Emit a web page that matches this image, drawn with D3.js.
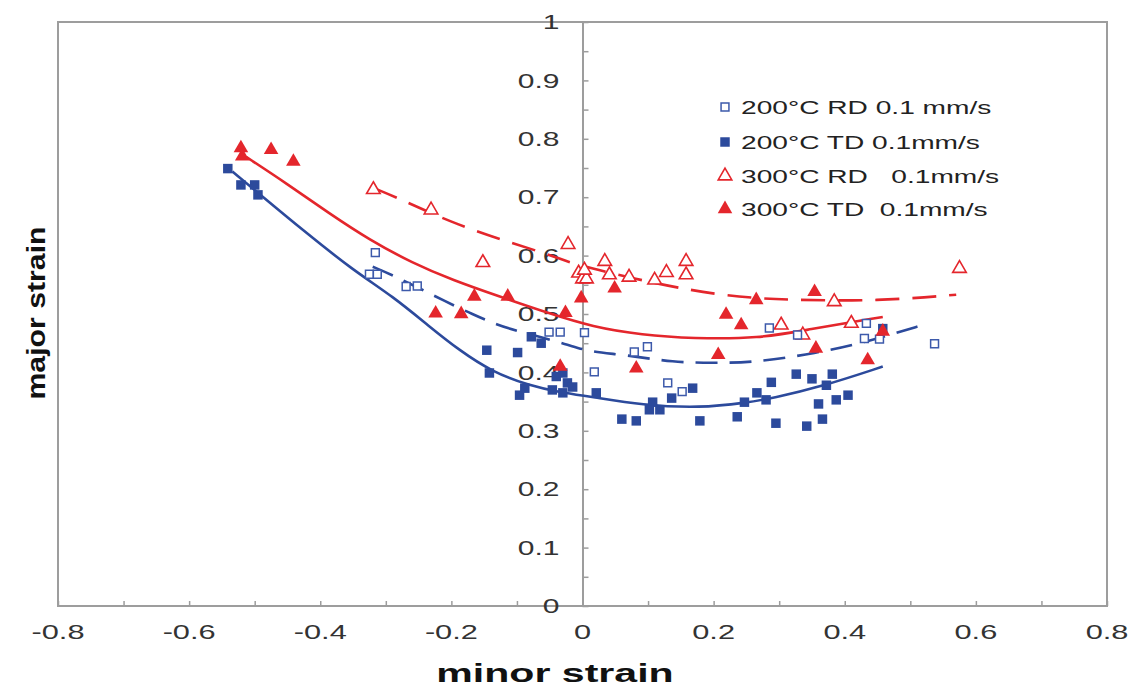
<!DOCTYPE html>
<html>
<head>
<meta charset="utf-8">
<script src="https://cdn.jsdelivr.net/npm/d3@7"></script>
<style>
  html, body { margin: 0; padding: 0; background: #fff; }
  svg { display: block; }
  text { font-family: "Liberation Sans", Arial, sans-serif; }
</style>
</head>
<body>
<svg id="chart" width="1134" height="689"></svg>
<script>
// ---------- data (minor strain, major strain) ----------
const rd200 = [
  [-0.316,0.605],[-0.325,0.568],[-0.313,0.568],[-0.269,0.547],[-0.252,0.548],
  [-0.051,0.469],[-0.034,0.469],[0.003,0.468],[0.018,0.401],[0.079,0.435],
  [0.099,0.444],[0.130,0.382],[0.152,0.367],[0.285,0.476],[0.328,0.464],
  [0.433,0.484],[0.430,0.458],[0.453,0.457],[0.537,0.449]
];
const td200 = [
  [-0.541,0.749],[-0.521,0.721],[-0.500,0.721],[-0.495,0.704],
  [-0.146,0.438],[-0.142,0.399],[-0.099,0.434],[-0.078,0.461],[-0.063,0.450],
  [-0.088,0.373],[-0.096,0.361],[-0.040,0.393],[-0.046,0.370],[-0.030,0.365],
  [-0.023,0.382],[-0.015,0.375],[-0.030,0.399],[0.021,0.365],[0.060,0.320],
  [0.082,0.317],[0.107,0.349],[0.118,0.336],[0.102,0.336],[0.136,0.356],
  [0.168,0.373],[0.179,0.317],[0.236,0.324],[0.247,0.349],[0.266,0.365],
  [0.288,0.383],[0.326,0.397],[0.350,0.389],[0.381,0.397],[0.372,0.378],
  [0.280,0.353],[0.360,0.346],[0.387,0.353],[0.405,0.361],[0.295,0.313],
  [0.342,0.308],[0.366,0.320],[0.458,0.475]
];
const rd300 = [
  [-0.319,0.713],[-0.231,0.678],[-0.152,0.588],[-0.022,0.619],[-0.006,0.570],
  [0.000,0.560],[0.006,0.560],[0.003,0.575],[0.034,0.590],[0.041,0.567],
  [0.071,0.563],[0.110,0.558],[0.128,0.571],[0.158,0.590],[0.158,0.567],
  [0.303,0.481],[0.336,0.464],[0.384,0.521],[0.410,0.484],[0.575,0.578]
];
const td300 = [
  [-0.521,0.784],[-0.519,0.770],[-0.475,0.781],[-0.441,0.761],
  [-0.224,0.501],[-0.185,0.500],[-0.165,0.530],[-0.114,0.530],[-0.034,0.410],
  [-0.026,0.502],[-0.002,0.527],[0.049,0.544],[0.082,0.407],[0.207,0.430],
  [0.219,0.499],[0.242,0.481],[0.265,0.524],[0.354,0.538],[0.356,0.441],
  [0.435,0.421],[0.458,0.470]
];
// trend curves
const fitTd200 = [
  [-0.534,0.744],[-0.488,0.701],[-0.427,0.644],[-0.350,0.575],[-0.289,0.530],
  [-0.233,0.478],[-0.188,0.438],[-0.138,0.401],[-0.080,0.377],[-0.035,0.366],
  [0.015,0.358],[0.091,0.344],[0.179,0.339],[0.250,0.348],[0.290,0.356],
  [0.366,0.376],[0.458,0.410]
];
const fitTd300 = [
  [-0.513,0.769],[-0.452,0.724],[-0.386,0.672],[-0.325,0.627],[-0.259,0.587],
  [-0.198,0.558],[-0.127,0.530],[-0.051,0.501],[0.015,0.478],[0.091,0.464],
  [0.168,0.458],[0.270,0.458],[0.342,0.473],[0.458,0.495]
];
const fitRd200 = [
  [-0.320,0.581],[-0.284,0.564],[-0.203,0.518],[-0.170,0.501],[-0.130,0.481],
  [-0.096,0.470],[-0.020,0.447],[0.011,0.435],[0.067,0.430],[0.137,0.417],
  [0.209,0.416],[0.270,0.418],[0.356,0.433],[0.427,0.450],[0.524,0.483]
];
const fitRd300 = [
  [-0.317,0.715],[-0.274,0.695],[-0.203,0.658],[-0.124,0.627],[-0.040,0.598],
  [-0.022,0.588],[0.072,0.562],[0.166,0.540],[0.239,0.529],[0.311,0.524],
  [0.453,0.522],[0.570,0.533]
];
const xTicks = [-0.8,-0.6,-0.4,-0.2,0,0.2,0.4,0.6,0.8];
const yTicks = [0,0.1,0.2,0.3,0.4,0.5,0.6,0.7,0.8,0.9,1];
const legendLabels = ["200°C RD 0.1 mm/s","200°C TD 0.1mm/s","300°C RD   0.1mm/s","300°C TD  0.1mm/s"];

// ---------- layout ----------
const BLUE = "#2c4a9c", BLUE_OPEN = "#3d5aab", RED = "#e4262c";
const svg = d3.select("#chart");
const x = d3.scaleLinear().domain([-0.8,0.8]).range([58,1107]);
const y = d3.scaleLinear().domain([0,1]).range([606,22]);
const FRAME = "#9d9d9d";
const fmt = d => String(d);

// frame
svg.append("rect").attr("x",x(-0.8)).attr("y",y(1))
  .attr("width",x(0.8)-x(-0.8)).attr("height",y(0)-y(1))
  .attr("fill","none").attr("stroke",FRAME).attr("stroke-width",2);

// x ticks (upward, every 0.1)
const gx = svg.append("g").attr("transform",`translate(0,${y(0)})`)
  .call(d3.axisTop(x).tickValues(d3.range(-8,9).map(d=>d/10)).tickSize(5).tickFormat(""));
gx.select(".domain").remove();
gx.selectAll("line").attr("stroke",FRAME).attr("stroke-width",1.5);

// y axis at minor strain 0
const gy = svg.append("g").attr("transform",`translate(${x(0)},0)`)
  .call(d3.axisRight(y).tickValues(d3.range(0,21).map(d=>d/20)).tickSize(6).tickFormat("").tickSizeOuter(0));
gy.select(".domain").attr("stroke",FRAME).attr("stroke-width",2);
gy.selectAll("line").attr("stroke",FRAME).attr("stroke-width",1.5);

// tick labels (horizontally stretched like the source)
const SX = 1.5;
svg.append("g").selectAll("g").data(yTicks).join("g")
  .attr("transform",d=>`translate(${x(0)-23},${y(d)}) scale(${SX},1)`)
  .append("text").attr("text-anchor","end").attr("dy","0.36em")
  .attr("font-size",20).attr("fill","#333").text(fmt);
svg.append("g").selectAll("g").data(xTicks).join("g")
  .attr("transform",d=>`translate(${x(d)},632) scale(${SX},1)`)
  .append("text").attr("text-anchor","middle").attr("dy","0.36em")
  .attr("font-size",20.5).attr("fill","#333").text(fmt);

// axis titles
svg.append("g").attr("transform","translate(555,682) scale(1.58,1)")
  .append("text").attr("text-anchor","middle").attr("font-size",26)
  .attr("font-weight","bold").attr("fill","#111").text("minor strain");
svg.append("text").attr("transform","translate(45,313) rotate(-90)")
  .attr("text-anchor","middle").attr("font-size",26).attr("font-weight","bold")
  .attr("fill","#111").attr("textLength",173).attr("lengthAdjust","spacingAndGlyphs")
  .text("major strain");

// fit curves
const line = d3.line().x(d=>x(d[0])).y(d=>y(d[1])).curve(d3.curveBasis);
const curves = [
  {data:fitRd300, color:RED, dash:"24,13"},
  {data:fitTd300, color:RED, dash:null},
  {data:fitRd200, color:BLUE, dash:"22,12"},
  {data:fitTd200, color:BLUE, dash:null}
];
svg.append("g").selectAll("path").data(curves).join("path")
  .attr("d",d=>line(d.data)).attr("fill","none")
  .attr("stroke",d=>d.color).attr("stroke-width",2.6)
  .attr("stroke-dasharray",d=>d.dash);

// markers
const sqOpen = d3.symbol().type(d3.symbolSquare).size(62)();
const sqFill = d3.symbol().type(d3.symbolSquare).size(90)();
const triOpen = d3.symbol().type(d3.symbolTriangle).size(80)();
const triFill = d3.symbol().type(d3.symbolTriangle).size(92)();
const series = [
  {data:rd300, path:triOpen, fill:"#fff", stroke:RED, sw:1.6},
  {data:rd200, path:sqOpen, fill:"#fff", stroke:BLUE_OPEN, sw:1.5},
  {data:td200, path:sqFill, fill:BLUE, stroke:"none", sw:0},
  {data:td300, path:triFill, fill:RED, stroke:"none", sw:0}
];
series.forEach(s=>{
  svg.append("g").selectAll("path").data(s.data).join("path")
    .attr("d",s.path).attr("transform",d=>`translate(${x(d[0])},${y(d[1])})`)
    .attr("fill",s.fill).attr("stroke",s.stroke).attr("stroke-width",s.sw);
});

// legend
const legendMarks = [
  {path:sqOpen, fill:"#fff", stroke:BLUE_OPEN, sw:1.5},
  {path:sqFill, fill:BLUE, stroke:"none", sw:0},
  {path:triOpen, fill:"#fff", stroke:RED, sw:1.6},
  {path:triFill, fill:RED, stroke:"none", sw:0}
];
const legendY = [107,142,176,209];
const lg = svg.append("g");
legendLabels.forEach((lab,i)=>{
  const m = legendMarks[i];
  lg.append("path").attr("d",m.path).attr("transform",`translate(725,${legendY[i]})`)
    .attr("fill",m.fill).attr("stroke",m.stroke).attr("stroke-width",m.sw);
  lg.append("g").attr("transform",`translate(741,${legendY[i]}) scale(1.52,1)`)
    .append("text").attr("dy","0.36em").attr("font-size",18.5).attr("fill","#222")
    .style("white-space","pre").text(lab);
});
</script>
</body>
</html>
